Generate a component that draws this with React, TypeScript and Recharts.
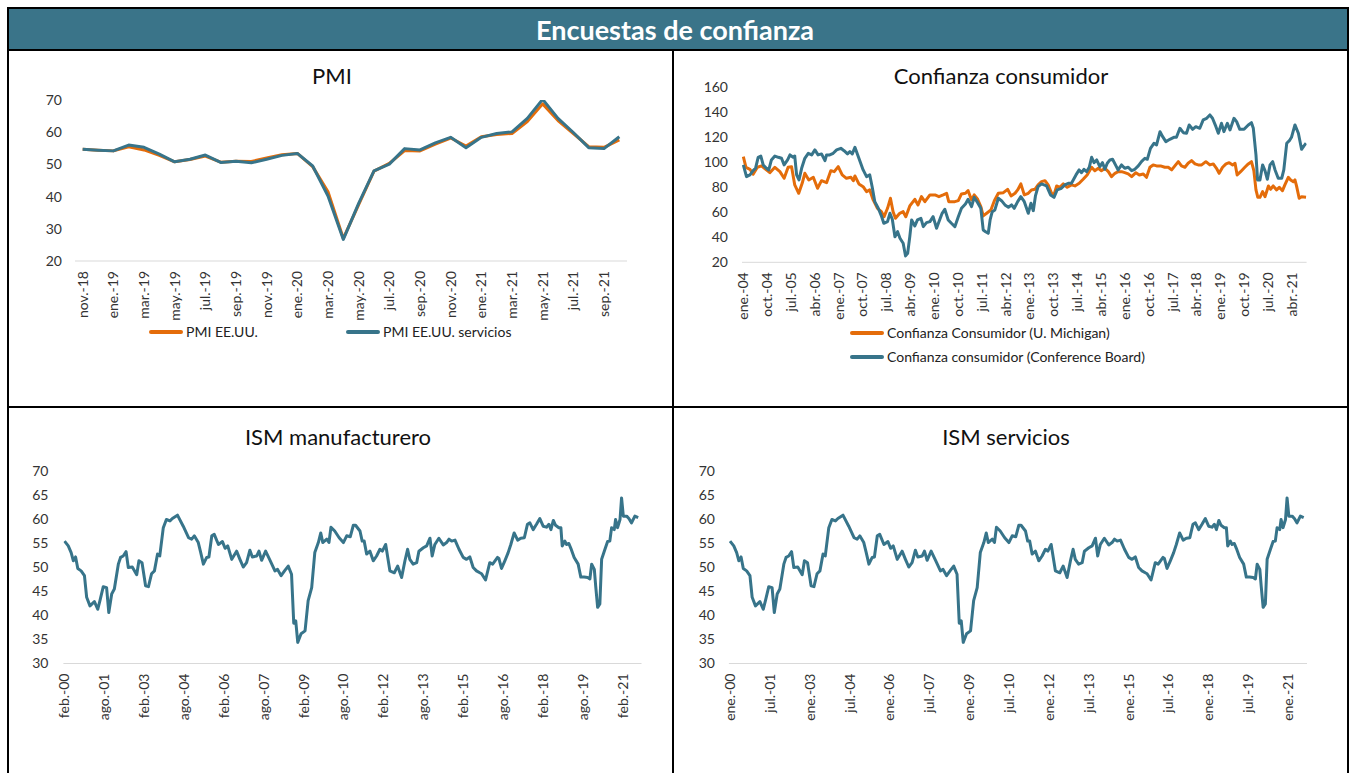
import React from "react";
import { LineChart, Line, XAxis, YAxis } from "recharts";

const MESES = ["ene.", "feb.", "mar.", "abr.", "may.", "jun.", "jul.", "ago.", "sep.", "oct.", "nov.", "dic."];

// PMI: monthly, nov-18 .. oct-21
const pmiEEUU = [
  54.7, 54.4, 54.2, 55.5, 54.5, 52.8, 50.8, 51.5, 52.6, 50.7, 51.0, 50.9,
  52.0, 53.0, 53.4, 49.3, 41.5, 27.0, 37.5, 47.9, 50.3, 54.3, 54.2, 56.3,
  58.2, 55.7, 58.6, 59.3, 59.6, 63.3, 68.8, 63.6, 59.6, 55.5, 55.3, 57.6,
];
const pmiServicios = [
  54.7, 54.4, 54.2, 56.0, 55.3, 53.2, 50.8, 51.6, 52.9, 50.6, 51.0, 50.5,
  51.6, 52.8, 53.4, 49.5, 40.2, 26.7, 37.9, 48.0, 50.1, 54.9, 54.5, 56.7,
  58.4, 55.2, 58.4, 59.6, 60.1, 64.3, 70.2, 64.3, 59.9, 55.2, 54.9, 58.6,
];
const pmiTicks = [0, 2, 4, 6, 8, 10, 12, 14, 16, 18, 20, 22, 24, 26, 28, 30, 32, 34];
const pmiYTicks = [20, 30, 40, 50, 60, 70];

// Confianza consumidor: [months since ene-04, value]
const confMichigan: [number, number][] = [
  [0, 104.5], [1, 96], [2.5, 94.4], [3.7, 90.4], [5.3, 96], [6.9, 97.1], [8.7, 93.9], [10, 91.7],
  [11.9, 96], [13.8, 92.5], [15.4, 87.2], [16.9, 96], [18.2, 96.5], [19.4, 81.9], [20.9, 75.2],
  [22.2, 83.2], [23.2, 91.2], [24.7, 85.9], [26.4, 88], [28, 79.2], [29.5, 85.3], [31.4, 83.7],
  [33, 93.3], [34.3, 92.5], [35.8, 96.5], [37.3, 89.9], [38.9, 87.2], [40.6, 88], [41.5, 85.3],
  [42.1, 89.1], [43.6, 82.7], [45.2, 80.5], [46.5, 76.5], [47.7, 77.9], [49, 69.9], [50.6, 63.2],
  [52.1, 60.5], [53.1, 56.5], [54.4, 63.2], [55.5, 71.2], [56.5, 60.5], [57.4, 55.2], [59, 59.2],
  [60.3, 60.5], [61.3, 56.5], [62.8, 65.1], [64.7, 70.4], [65.9, 65.9], [67.2, 72.5], [68.5, 68.5],
  [70.4, 73.9], [72.3, 73.9], [73.8, 72.5], [75.4, 73.9], [76.7, 75.2], [77.5, 68.5], [79.8, 68.5],
  [81.1, 69.3], [82.3, 74.7], [83.8, 75.2], [84.8, 77.3], [86.1, 69.9], [87.1, 73.9], [88.4, 70.4],
  [89.6, 64.5], [90.5, 57.1], [91.8, 59.2], [93.4, 61.9], [94.7, 69.3], [96.2, 75.2], [98.1, 75.7],
  [99.7, 78.4], [101, 73.1], [102.5, 75.2], [103.5, 77.9], [104.7, 82.7], [106, 73.9], [107.5, 75.2],
  [108.7, 77.9], [110, 78.4], [111.2, 81.9], [112.5, 84.5], [113.8, 85.3], [115, 81.9], [116.3, 75.2],
  [117.2, 73.9], [118.2, 81.1], [119.4, 80], [120.7, 82.7], [122.2, 80], [123.8, 81.9], [125.1, 81.1],
  [126.7, 83.2], [128.2, 86.4], [129.7, 89.9], [131.4, 96], [132.6, 93.3], [133.9, 95.2], [135.1, 93.3],
  [136.4, 95.2], [137.7, 92.5], [138.9, 88.5], [140.2, 91.2], [141.4, 92.5], [142.7, 92.5], [143.9, 91.7],
  [145.2, 90.7], [146.5, 88.5], [148.1, 91.7], [149.4, 89.9], [150.9, 90.7], [152.1, 88], [153.4, 96],
  [154.6, 97.9], [155.9, 97.1], [157.4, 97.1], [159, 96], [160.3, 96], [161.6, 93.9], [162.8, 97.1],
  [164.1, 100.5], [165.3, 97.1], [166.6, 96], [167.8, 99.2], [169.1, 101.3], [170.4, 98.7], [171.6, 97.9],
  [172.9, 97.9], [174.5, 100.5], [176, 97.9], [177.3, 98.7], [178.5, 95.2], [179.5, 91.2], [180.8, 96],
  [182.1, 98.7], [183.3, 99.7], [184.6, 97.9], [185.5, 99.2], [186.3, 89.9], [187.6, 92.5], [189.2, 96],
  [190.5, 98.7], [191.7, 100.5], [192.6, 93.3], [193.4, 77.9], [194.1, 72], [194.9, 72], [195.9, 76.5],
  [196.8, 72.5], [198.1, 81.1], [198.9, 78.4], [199.9, 81.1], [201.2, 77.9], [202.2, 80], [203.4, 77.3],
  [204.3, 81.9], [205.6, 88], [206.5, 85.9], [207.5, 84.5], [208.1, 85.9], [208.7, 81.1], [209.7, 71.2],
  [210.6, 72.5], [212.3, 72],
];
const confConference: [number, number][] = [
  [0, 97.9], [1.2, 88.5], [2.5, 89.9], [3.7, 93.3], [4.6, 95.2], [5.6, 104], [6.6, 105], [7.5, 97.9],
  [8.7, 95.2], [9.6, 93.9], [10.6, 101.9], [11.9, 105], [13.2, 104], [14.4, 103.2], [15.4, 97.9],
  [16.7, 101.9], [17.6, 105.9], [18.8, 104], [19.4, 105], [20.1, 89.9], [21, 85.9], [22, 95.2],
  [23.2, 103.2], [24.5, 107.2], [25.8, 105.9], [27, 109.9], [28.2, 105.9], [29.5, 106.7], [30.8, 101.3],
  [31.4, 105.9], [32.6, 105.9], [33.9, 107.2], [35.2, 109.9], [36.8, 111.2], [38, 109.3], [39.3, 106.7],
  [40.2, 108.5], [41.1, 106.7], [42.1, 112], [43.6, 103.2], [45.2, 93.9], [46.5, 88.5], [47.7, 89.9],
  [48.6, 80.5], [49.6, 68.5], [50.9, 63.2], [52.2, 56.5], [53, 51.2], [54.4, 52.5], [55.3, 59.2],
  [56.2, 54.4], [57.2, 40.5], [58.2, 44.5], [59.1, 39.2], [60.3, 35.2], [61.2, 25.1], [62, 27.2],
  [62.8, 40.5], [63.5, 53.9], [64.7, 49.1], [65.7, 53.9], [67, 55.2], [67.9, 48.5], [69.1, 51.7],
  [70.4, 52.5], [71.6, 56.5], [72.9, 47.2], [73.8, 52.5], [75, 59.2], [76, 62.4], [77.3, 53.9],
  [78.5, 51.2], [79.8, 48.5], [81.1, 56.5], [82.3, 63.2], [83.8, 66.7], [84.8, 70.4], [86.1, 64.5],
  [87.1, 72], [88.4, 67.7], [89.6, 63.2], [90.5, 45.9], [91.4, 44.5], [92.4, 43.2], [93.1, 53.9],
  [93.9, 60.5], [94.9, 61.9], [96.2, 71.2], [97.4, 69.3], [98.7, 65.9], [100, 64], [101.2, 65.9],
  [102.2, 63.2], [103.5, 68.5], [104.7, 72.5], [106, 68.5], [107.5, 59.2], [108.5, 67.2], [109.4, 61.3],
  [110.2, 73.1], [111.2, 80.5], [112.5, 82.7], [114.4, 81.1], [115.9, 73.9], [117.2, 72], [118.4, 77.9],
  [120, 79.2], [121.3, 81.9], [122.6, 83.2], [123.8, 83.2], [125.5, 89.9], [126.7, 93.9], [127.6, 91.7],
  [128.5, 94.4], [129.5, 92.5], [130.5, 96], [131.4, 104], [132.3, 99.7], [133.3, 101.9], [134.5, 96.5],
  [135.5, 99.7], [136.4, 94.4], [137.3, 99.2], [138.3, 101.9], [139.3, 102.4], [140.6, 97.1], [141.4, 93.9],
  [142.7, 97.9], [143.9, 95.2], [145.2, 96], [146.5, 93.3], [147.7, 94.4], [149, 97.1], [150.2, 100.5],
  [151.5, 103.2], [152.4, 102.4], [153.6, 111.2], [154.9, 115.2], [155.9, 113.9], [157.2, 124.5],
  [158.2, 120.5], [159.4, 116.5], [160.9, 118.4], [162.4, 120], [163.4, 120], [164.7, 127.2], [166, 123.7],
  [167.2, 123.2], [168.2, 129.9], [169.5, 126.4], [170.7, 128.5], [172.2, 127.2], [173.5, 133.9],
  [174.8, 135.2], [176, 137.9], [177, 135.2], [178.3, 128.5], [179.2, 123.2], [180.4, 131.2], [181.3, 124.5],
  [182.6, 131.2], [183.6, 125.9], [185.1, 135.2], [186.1, 132.5], [187.3, 126.4], [188.9, 126.4],
  [190.5, 129.9], [191.7, 131.7], [192.4, 127.2], [193.4, 105.9], [194, 85.9], [194.9, 85.9], [195.9, 97.9],
  [196.8, 93.3], [197.7, 86.4], [198.7, 97.9], [199.7, 100.5], [200.6, 93.9], [201.8, 87.2], [203.1, 87.2],
  [203.9, 93.9], [205, 115.2], [206, 117.3], [206.8, 120], [208.1, 129.9], [209.4, 123.2], [210.6, 110.4],
  [211.5, 113.1], [212.3, 115.2],
];
const confTicks = [0, 9, 18, 27, 36, 45, 54, 63, 72, 81, 90, 99, 108, 117, 126, 135, 144, 153, 162, 171, 180, 189, 198, 207];
const confYTicks = [20, 40, 60, 80, 100, 120, 140, 160];

// ISM: [months since start, value]
const ismManufacturero: [number, number][] = [
  [0, 55.5], [1.7, 54.5], [3, 53.1], [4, 51.4], [5, 52.2], [6, 49.8], [7.5, 49.3], [9, 48.3], [10, 43.8],
  [11.5, 42.0], [13.5, 42.9], [15, 41.3], [16, 43.1], [17.5, 46.0], [19, 45.8], [20, 40.6], [21.3, 44.5],
  [22.5, 45.5], [24.3, 50.7], [25.3, 52.1], [26.5, 52.4], [27.8, 53.3], [28.8, 50.0], [30.6, 50.1],
  [32.6, 48.5], [33.6, 51.4], [35, 51.0], [36.6, 46.2], [37.9, 46.0], [39.3, 48.7], [40.6, 49.3],
  [42, 52.8], [43, 52.4], [44.6, 58.3], [46, 60.0], [47.6, 59.7], [48.7, 60.2], [51, 60.9], [53.6, 58.6],
  [56, 56.2], [57.4, 55.9], [58.6, 56.6], [60.4, 55.2], [61.5, 53.1], [62.7, 50.7], [64.2, 52.1],
  [65.2, 52.2], [66.5, 56.6], [67.6, 56.9], [69.5, 54.8], [71.3, 55.4], [72.5, 54.0], [73.7, 54.5],
  [75.5, 51.7], [77.7, 53.4], [79.2, 51.7], [80.7, 50.1], [82.2, 51.0], [83.7, 53.6], [84.8, 52.2],
  [86.8, 52.4], [87.8, 53.4], [89, 51.5], [90.8, 53.4], [92.8, 51.5], [95, 49.3], [96.2, 49.6],
  [97.8, 48.3], [99.5, 49.4], [101, 50.3], [102.5, 48.6], [103.5, 38.4], [104.4, 38.9], [105.3, 34.4],
  [106.8, 36.2], [108.6, 36.8], [110, 43.1], [111.6, 45.8], [113, 53.1], [114.6, 55.2], [115.7, 57.2],
  [116.6, 55.2], [118.4, 55.9], [119.4, 55.2], [120.3, 58.4], [122, 57.6], [124, 56.2], [125.9, 55.2],
  [127.4, 56.6], [129, 56.4], [130.4, 58.8], [131.4, 58.8], [133.4, 57.6], [134.4, 55.5], [135.3, 55.5],
  [136.4, 52.8], [137.9, 53.4], [139.4, 51.4], [140.9, 52.4], [142.4, 53.8], [143.5, 53.4], [145, 54.8],
  [146.9, 49.3], [148.9, 48.9], [150.4, 50.3], [152.2, 47.9], [153.7, 51.4], [154.9, 53.8], [155.9, 51.7],
  [157.4, 50.7], [159, 51.0], [160, 53.4], [162, 54.1], [163.5, 54.5], [165, 56.1], [166, 52.4],
  [167.2, 54.8], [169, 56.1], [171, 54.7], [172.5, 55.2], [173.6, 55.9], [174.8, 55.5], [176.3, 55.7],
  [178.1, 53.8], [180, 52.1], [181.5, 51.7], [183, 52.2], [184.5, 50.0], [186, 49.3], [187.5, 48.9],
  [188.3, 48.7], [190.1, 47.4], [192, 51.0], [193.3, 50.7], [195.5, 52.1], [196.1, 51.9], [197.3, 49.8],
  [198.8, 51.4], [200.3, 53.1], [201.5, 54.8], [203, 57.2], [204.6, 55.7], [206, 56.1], [207.6, 56.2],
  [209, 59.0], [210.1, 59.3], [211.6, 57.9], [213.1, 59.0], [214.6, 60.2], [216.1, 58.6], [217.6, 58.4],
  [218.7, 59.0], [219.6, 57.9], [220.7, 59.8], [221.7, 58.8], [223.2, 58.3], [224.1, 58.3], [224.7, 54.5],
  [225.9, 55.5], [226.7, 54.8], [227.7, 55.0], [228.6, 54.0], [230.1, 52.1], [231.9, 50.7], [233.1, 48.0],
  [234.6, 48.0], [236.2, 47.9], [237.2, 47.6], [238, 50.7], [239.2, 49.6], [239.8, 46.2], [240.7, 41.7],
  [241.7, 42.4], [242.5, 51.7], [244, 53.8], [245.2, 55.4], [246.2, 55.5], [247, 58.3], [248.2, 57.9],
  [248.8, 60.0], [249.7, 58.3], [250.8, 60.0], [251.5, 64.5], [252.3, 60.7], [253.8, 60.7], [254.8, 60.2],
  [256, 59.3], [257.5, 60.7], [259, 60.4],
];
// the source draws the very same curve for servicios
const ismServicios = ismManufacturero;
const ismTicks = [0, 18, 36, 54, 72, 90, 108, 126, 144, 162, 180, 198, 216, 234, 252];
const ismYTicks = [30, 35, 40, 45, 50, 55, 60, 65, 70];

const ORANGE = "#E46C0A";
const BLUE = "#37748A";
const FONT = "Lato, 'Open Sans', sans-serif";

const mesLabel = (year: number, month: number) => (m: number) => {
  const t = month + Math.round(m);
  const y = year + Math.floor(t / 12);
  return `${MESES[t % 12]}-${String(y % 100).padStart(2, "0")}`;
};

const pmiData = pmiEEUU.map((v, i) => ({ m: i, a: v, b: pmiServicios[i] }));
const confData = [
  ...confMichigan.map(([m, v]) => ({ m, a: v })),
  ...confConference.map(([m, v]) => ({ m, b: v })),
].sort((p, q) => p.m - q.m);
const ismManufData = ismManufacturero.map(([m, v]) => ({ m, a: v }));
const ismServData = ismServicios.map(([m, v]) => ({ m, a: v }));

const MonthTick = (props: any) => {
  const { x, y, payload, fmt } = props;
  return (
    <text
      x={x}
      y={y}
      transform={`rotate(-90 ${x} ${y})`}
      textAnchor="end"
      dy="0.35em"
      fontSize={14}
      fill="#333"
      fontFamily={FONT}
    >
      {fmt(payload.value)}
    </text>
  );
};

type Rect = { l: number; t: number; w: number; h: number };
type Plot = { l: number; t: number; r: number; b: number };

const Y_W = 50;
const X_H = 60;

const Panel = ({
  box, plot, data, xDomain, xTicks, fmt, yDomain, yTicks, yGap, series,
}: {
  box: Rect; plot: Plot; data: any[]; xDomain: [number, number]; xTicks: number[];
  fmt: (m: number) => string; yDomain: [number, number]; yTicks: number[]; yGap: number;
  series: { key: string; color: string }[];
}) => {
  const margin = {
    left: plot.l - box.l - Y_W,
    right: box.l + box.w - plot.r,
    top: plot.t - box.t,
    bottom: box.t + box.h - plot.b - X_H,
  };
  return (
    <div style={{ position: "absolute", left: box.l, top: box.t }}>
      <LineChart width={box.w} height={box.h} data={data} margin={margin}>
        <XAxis
          type="number"
          dataKey="m"
          domain={xDomain}
          allowDataOverflow
          ticks={xTicks}
          interval={0}
          height={X_H}
          tickLine={false}
          tickSize={0}
          tickMargin={10}
          axisLine={{ stroke: "#D9D9D9", strokeWidth: 1 }}
          tick={(p: any) => <MonthTick {...p} fmt={fmt} />}
        />
        <YAxis
          type="number"
          domain={yDomain}
          allowDataOverflow
          ticks={yTicks}
          interval={0}
          width={Y_W}
          axisLine={false}
          tickLine={false}
          tickSize={0}
          tickMargin={yGap}
          tick={{ fontSize: 14, fill: "#333", fontFamily: FONT }}
        />
        {series.map((s) => (
          <Line
            key={s.key}
            type="linear"
            dataKey={s.key}
            stroke={s.color}
            strokeWidth={3}
            strokeLinejoin="round"
            dot={false}
            connectNulls
            isAnimationActive={false}
          />
        ))}
      </LineChart>
    </div>
  );
};

const Title = ({ x, y, text }: { x: number; y: number; text: string }) => (
  <div
    style={{
      position: "absolute", left: x, top: y, transform: "translate(-50%, -50%)",
      fontSize: 22, color: "#111", whiteSpace: "nowrap", lineHeight: 1,
    }}
  >
    {text}
  </div>
);

const LegendItem = ({ x, y, color, text }: { x: number; y: number; color: string; text: string }) => (
  <div style={{ position: "absolute", left: x, top: y, transform: "translateY(-50%)", display: "flex", alignItems: "center" }}>
    <div style={{ width: 34, height: 4, background: color, borderRadius: 2 }} />
    <span style={{ marginLeft: 3, fontSize: 14, color: "#222", whiteSpace: "nowrap", lineHeight: 1 }}>{text}</span>
  </div>
);

const Bar = ({ l, t, w, h, bg = "#000" }: { l: number; t: number; w: number; h: number; bg?: string }) => (
  <div style={{ position: "absolute", left: l, top: t, width: w, height: h, background: bg }} />
);

export default function App() {
  return (
    <div style={{ position: "relative", width: 1354, height: 773, background: "#fff", fontFamily: FONT, overflow: "hidden" }}>
      <style>{"body{margin:0}"}</style>

      <Bar l={7} t={9} w={1342} h={40} bg="#3A7489" />
      <div
        style={{
          position: "absolute", left: 675, top: 29, transform: "translate(-50%, -50%)",
          color: "#fff", fontWeight: 700, fontSize: 27, whiteSpace: "nowrap", lineHeight: 1,
        }}
      >
        Encuestas de confianza
      </div>

      <Panel
        box={{ l: 9, t: 50, w: 663, h: 356 }}
        plot={{ l: 75, t: 100, r: 627, b: 261 }}
        data={pmiData}
        xDomain={[-0.5, 35.5]}
        xTicks={pmiTicks}
        fmt={mesLabel(2018, 10)}
        yDomain={[20, 70]}
        yTicks={pmiYTicks}
        yGap={13}
        series={[{ key: "a", color: ORANGE }, { key: "b", color: BLUE }]}
      />
      <Title x={332} y={76} text="PMI" />
      <LegendItem x={149} y={332} color={ORANGE} text="PMI EE.UU." />
      <LegendItem x={346} y={332} color={BLUE} text="PMI EE.UU. servicios" />

      <Panel
        box={{ l: 674, t: 50, w: 673, h: 356 }}
        plot={{ l: 742, t: 87.3, r: 1306.6, b: 262.3 }}
        data={confData}
        xDomain={[-0.5, 212.5]}
        xTicks={confTicks}
        fmt={mesLabel(2004, 0)}
        yDomain={[20, 160]}
        yTicks={confYTicks}
        yGap={14}
        series={[{ key: "a", color: ORANGE }, { key: "b", color: BLUE }]}
      />
      <Title x={1001} y={76} text="Confianza consumidor" />
      <LegendItem x={850} y={333} color={ORANGE} text="Confianza Consumidor (U. Michigan)" />
      <LegendItem x={850} y={357} color={BLUE} text="Confianza consumidor (Conference Board)" />

      <Panel
        box={{ l: 9, t: 408, w: 663, h: 365 }}
        plot={{ l: 63.4, t: 471.5, r: 641.5, b: 663.5 }}
        data={ismManufData}
        xDomain={[-0.5, 260.5]}
        xTicks={ismTicks}
        fmt={mesLabel(2000, 1)}
        yDomain={[30, 70]}
        yTicks={ismYTicks}
        yGap={15}
        series={[{ key: "a", color: BLUE }]}
      />
      <Title x={338} y={437} text="ISM manufacturero" />

      <Panel
        box={{ l: 674, t: 408, w: 673, h: 365 }}
        plot={{ l: 728.9, t: 471.5, r: 1307, b: 663.5 }}
        data={ismServData}
        xDomain={[-0.5, 260.5]}
        xTicks={ismTicks}
        fmt={mesLabel(2000, 0)}
        yDomain={[30, 70]}
        yTicks={ismYTicks}
        yGap={14}
        series={[{ key: "a", color: BLUE }]}
      />
      <Title x={1006} y={437} text="ISM servicios" />

      {/* frame */}
      <Bar l={7} t={7} w={1342} h={2} />
      <Bar l={7} t={49} w={1342} h={2} />
      <Bar l={7} t={7} w={2} h={766} />
      <Bar l={1347} t={7} w={2} h={766} />
      <Bar l={672} t={49} w={2} h={724} />
      <Bar l={7} t={406} w={1342} h={2} />
    </div>
  );
}
